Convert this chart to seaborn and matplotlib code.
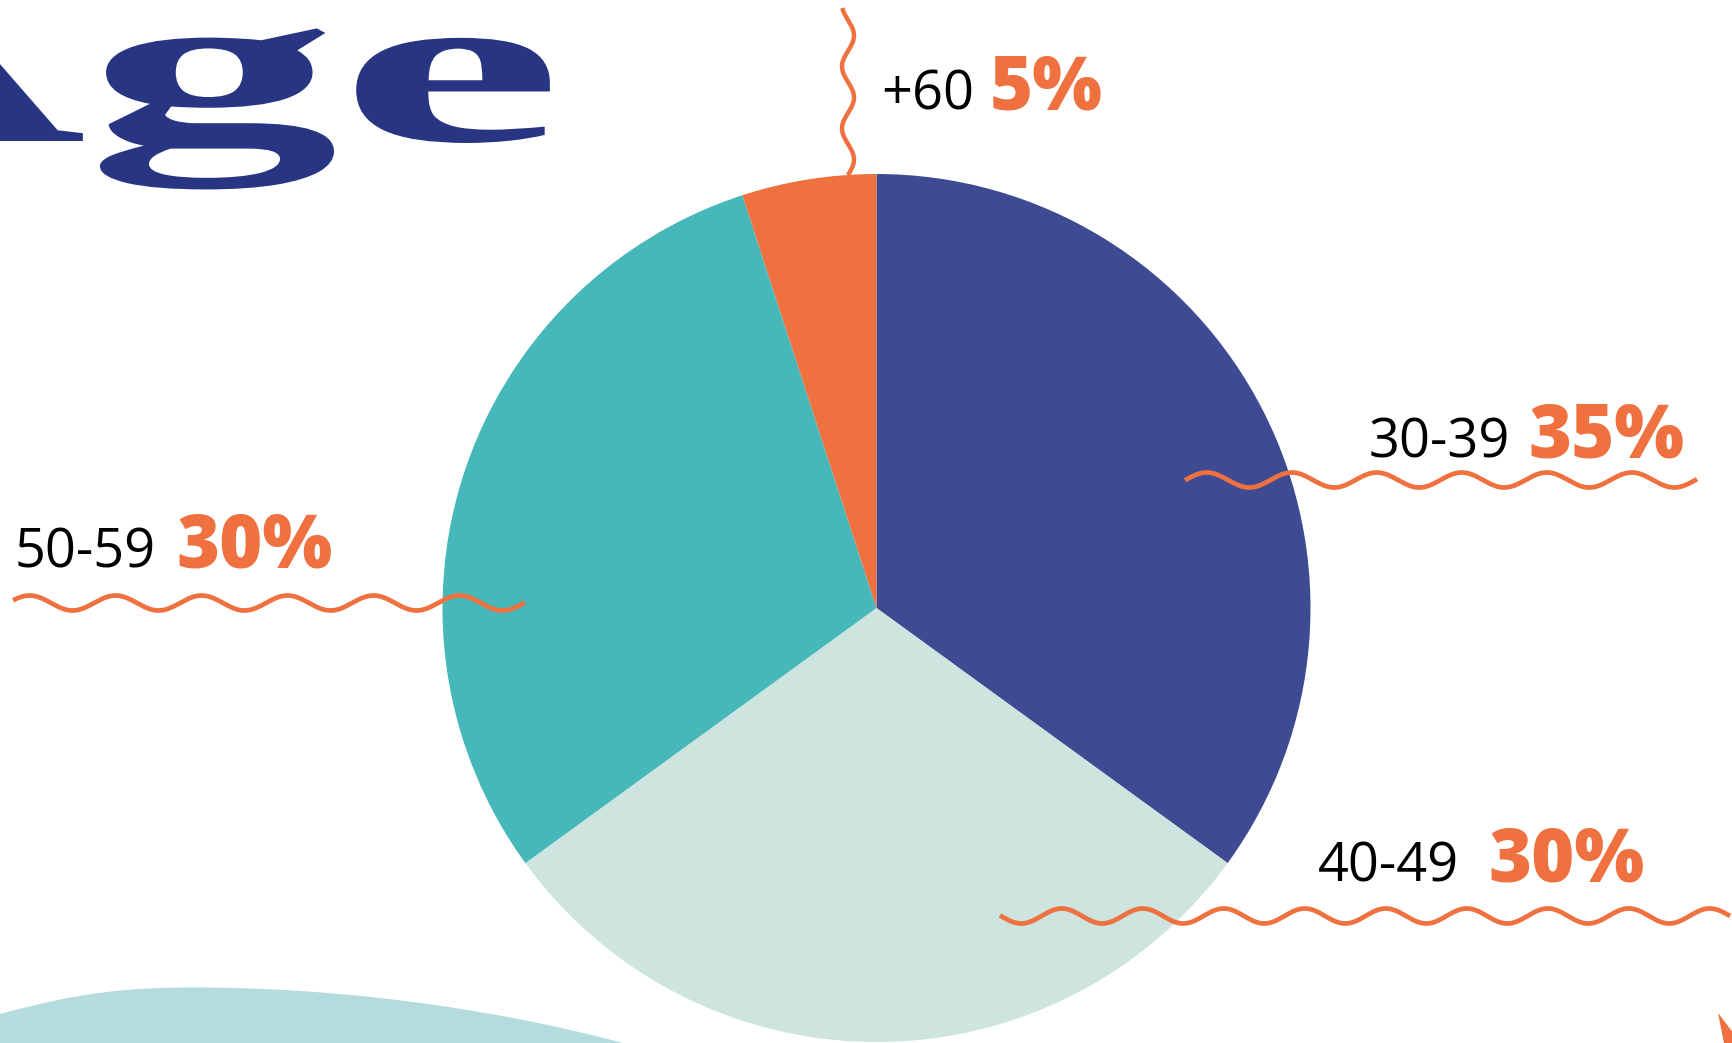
import numpy as np
import matplotlib
matplotlib.use("Agg")
import matplotlib.pyplot as plt
import seaborn as sns
from matplotlib.patches import PathPatch, Polygon
from matplotlib.path import Path
from matplotlib.patheffects import AbstractPathEffect
from matplotlib.transforms import Affine2D

# Age distribution data
age_groups = ["30-39", "40-49", "50-59", "+60"]
shares = [35, 30, 30, 5]
slice_colors = ["#3E4B92", "#CDE4DF", "#47B8BA", "#EE713F"]

W, H = 1733, 1043
ORANGE = "#EE713F"
NAVY = "#283583"

sns.set_theme(style="white")
plt.rcParams["font.family"] = ["Open Sans", "DejaVu Sans"]


class HorizontalStretch(AbstractPathEffect):
    """Widen glyph outlines horizontally about a fixed display x."""

    def __init__(self, sx, x0):
        super().__init__()
        self.sx, self.x0 = sx, x0

    def draw_path(self, renderer, gc, tpath, affine, rgbFace=None):
        stretch = Affine2D().translate(-self.x0, 0).scale(self.sx, 1).translate(self.x0, 0)
        renderer.draw_path(gc, tpath, affine + stretch, rgbFace)


fig = plt.figure(figsize=(W / 100, H / 100), dpi=100)
fig.patch.set_facecolor("white")

# background decoration layer (pixel coordinates, y downwards)
bg = fig.add_axes([0, 0, 1, 1], zorder=0)
bg.set_xlim(0, W)
bg.set_ylim(H, 0)
bg.axis("off")

blob = Path(
    [(0, 1014), (80, 992), (130, 987), (201, 987.5),
     (330, 988), (480, 1005), (623, 1043),
     (623, 1060), (0, 1060), (0, 1014)],
    [Path.MOVETO, Path.CURVE4, Path.CURVE4, Path.CURVE4,
     Path.CURVE4, Path.CURVE4, Path.CURVE4,
     Path.LINETO, Path.LINETO, Path.CLOSEPOLY],
)
bg.add_patch(PathPatch(blob, facecolor="#B4DCDE", edgecolor="none"))
bg.add_patch(Polygon([(1718, 1013), (1741, 1043), (1724, 1043)], closed=True,
                     facecolor=ORANGE, edgecolor="none"))

# pie
cx, cy, r = 876.5, 608, 434
ax = fig.add_axes([(cx - r) / W, (H - cy - r) / H, 2 * r / W, 2 * r / H], zorder=1)
ax.pie(shares, colors=sns.color_palette(slice_colors), startangle=90,
       counterclock=False, wedgeprops=dict(linewidth=0))
ax.set_xlim(-1, 1)
ax.set_ylim(-1, 1)
ax.axis("off")

# overlay: title, labels and wavy leader lines
ov = fig.add_axes([0, 0, 1, 1], zorder=2)
ov.set_xlim(0, W)
ov.set_ylim(H, 0)
ov.axis("off")
ov.patch.set_alpha(0)

ov.text(563, 141, "Age", ha="right", va="baseline", color=NAVY,
        fontsize=158, fontfamily="Liberation Serif", fontweight="bold",
        path_effects=[HorizontalStretch(2.3, 563)])

label_layout = {
    "30-39": dict(tx=1369, px=1528, base=457, wave=("h", 1185, 1697, 480, 85, 7.5, 1228)),
    "40-49": dict(tx=1318, px=1488, base=881, wave=("h", 1000, 1730, 916, 81, 7.5, 1001)),
    "50-59": dict(tx=15, px=176, base=567, wave=("h", 13, 525, 603, 86, 7.5, 51)),
    "+60": dict(tx=881, px=990, base=110, wave=("v", 8, 175, 848, 62, 6, 20)),
}

for group, share in zip(age_groups, shares):
    lay = label_layout[group]
    ov.text(lay["tx"], lay["base"], group, ha="left", va="baseline",
            color="black", fontsize=39, fontweight="normal")
    ov.text(lay["px"], lay["base"], f"{share}%", ha="left", va="baseline",
            color=ORANGE, fontsize=53, fontweight="heavy")
    kind, a0, a1, c, period, amp, ph = lay["wave"]
    t = np.linspace(a0, a1, 800)
    off = c + amp * np.sin(2 * np.pi * (t - ph) / period)
    if kind == "h":
        ov.plot(t, off, color=ORANGE, lw=3.4, solid_capstyle="butt")
    else:
        ov.plot(off, t, color=ORANGE, lw=3.2, solid_capstyle="butt")

fig.savefig("out.png", dpi=100, facecolor="white")
